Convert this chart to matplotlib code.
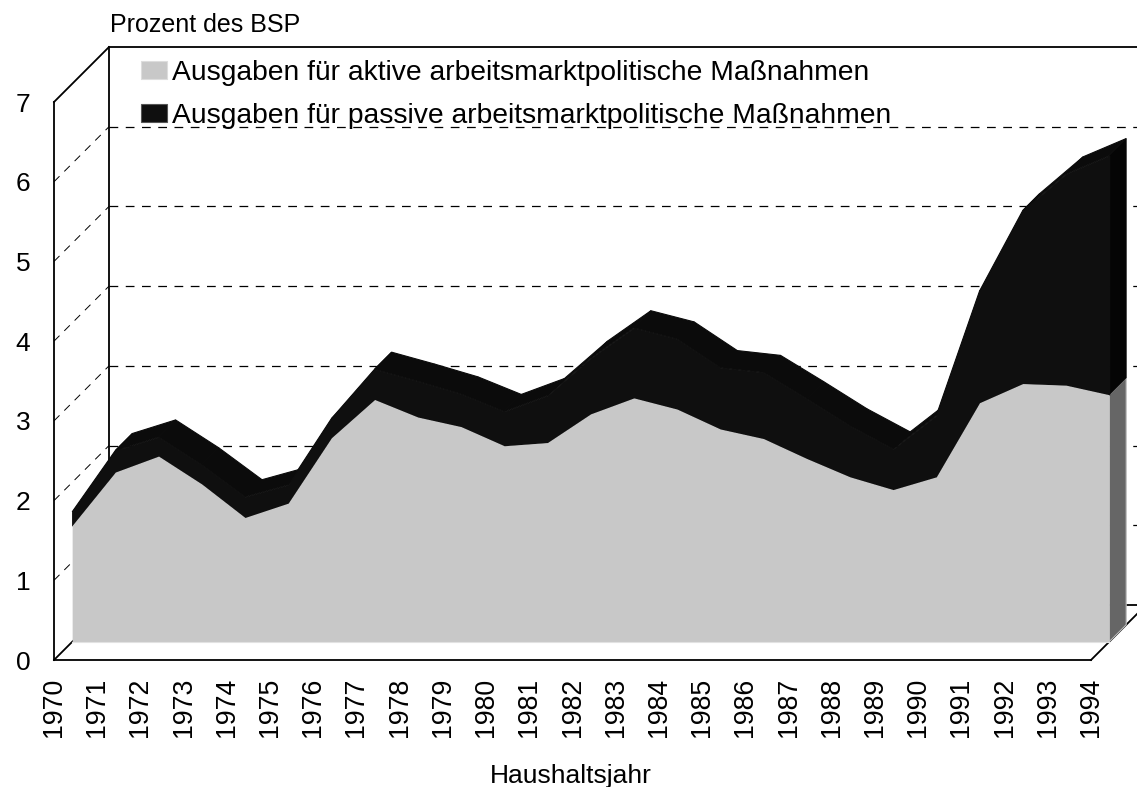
import matplotlib
matplotlib.use('Agg')
import matplotlib.pyplot as plt
from matplotlib.patches import Patch
import numpy as np

plt.rcParams['font.family'] = ['Liberation Sans', 'DejaVu Sans']

jahre = list(range(1970, 1995))
aktiv = [1.46, 2.13, 2.33, 1.98, 1.56, 1.74, 2.56, 3.04, 2.82, 2.70, 2.46, 2.50, 2.86,
         3.06, 2.92, 2.67, 2.55, 2.30, 2.07, 1.91, 2.07, 3.00, 3.24, 3.22, 3.10]
passiv = [0.17, 0.27, 0.24, 0.24, 0.26, 0.23, 0.24, 0.38, 0.45, 0.41, 0.43, 0.59, 0.70,
          0.88, 0.88, 0.77, 0.83, 0.75, 0.64, 0.51, 0.77, 1.40, 2.17, 2.65, 3.00]
y_ticks = [0, 1, 2, 3, 4, 5, 6, 7]
legende = ['Ausgaben für aktive arbeitsmarktpolitische Maßnahmen',
           'Ausgaben für passive arbeitsmarktpolitische Maßnahmen']

W, H = 1137, 787
fig = plt.figure(figsize=(W / 100, H / 100), dpi=100)
ax = fig.add_axes([54 / W, (H - 660) / H, 1037 / W, 558 / H])
ax.set_xlim(1970, 1994)
ax.set_ylim(0, 7)

# Tiefe: eine Einheit entspricht 55 Pixel nach rechts und oben
px_x = 1037 / 24
px_y = 558 / 7
DX = 55 / px_x
DY = 55 / px_y
VORN = 0.33
HINTEN = 0.64

x = np.array(jahre, dtype=float)
a = np.array(aktiv)
s = a + np.array(passiv)


def tief(xs, ys, d):
    return np.asarray(xs, dtype=float) + d * DX, np.asarray(ys, dtype=float) + d * DY


# Wände und Gitterlinien
x0, x1 = jahre[0], jahre[-1]
for v in y_ticks[1:-1]:
    ax.plot([x0, x0 + DX], [v, v + DY], color='black', lw=0.7, dashes=(8, 7),
            clip_on=False, zorder=1)
    ax.plot([x0 + DX, x1 + DX], [v + DY, v + DY], color='black', lw=0.9, dashes=(7, 6),
            clip_on=False, zorder=1)
rand = dict(color='black', lw=1.3, clip_on=False, zorder=1, solid_capstyle='projecting')
ax.plot([x0 + DX, x0 + DX], [DY, 7 + DY], **rand)
ax.plot([x0 + DX, x1 + DX], [7 + DY, 7 + DY], **rand)
ax.plot([x0 + DX, x1 + DX], [DY, DY], **rand)
ax.plot([x0, x0 + DX], [7, 7 + DY], **rand)
ax.plot([x0, x0 + DX], [0, DY], **rand)
ax.plot([x1, x1 + DX], [0, DY], **rand)

# Seitenflächen rechts
xv, yv = tief(x, a, VORN)
xh, yh = tief(x, a, HINTEN)
base_v = VORN * DY
base_h = HINTEN * DY
ax.fill([xv[-1], xh[-1], xh[-1], xv[-1]], [base_v, base_h, yh[-1], yv[-1]],
        facecolor='#666666', edgecolor='#bdbdbd', lw=0.8, clip_on=False, zorder=3)
xs_v, ys_v = tief(x, s, VORN)
xs_h, ys_h = tief(x, s, HINTEN)
ax.fill([xv[-1], xh[-1], xs_h[-1], xs_v[-1]], [yv[-1], yh[-1], ys_h[-1], ys_v[-1]],
        facecolor='#050505', edgecolor='#050505', lw=0.6, clip_on=False, zorder=3)

# Oberseite der schwarzen Fläche
for i in range(len(x) - 1):
    ax.fill([xs_v[i], xs_v[i + 1], xs_h[i + 1], xs_h[i]],
            [ys_v[i], ys_v[i + 1], ys_h[i + 1], ys_h[i]],
            facecolor='#0b0b0b', edgecolor='#0b0b0b', lw=0.8, clip_on=False, zorder=4)

# Vorderseite
ax.fill_between(xv, yv, ys_v, facecolor='#0f0f0f', edgecolor='#0f0f0f', lw=0.8,
                clip_on=False, zorder=5)
ax.fill_between(xv, base_v, yv, color='#c8c8c8', lw=0, clip_on=False, zorder=6)
ax.plot([xv[0], xv[-1]], [base_v, base_v], color='#e2e2e2', lw=0.8, clip_on=False, zorder=6)

# Achsen
for seite in ['top', 'right']:
    ax.spines[seite].set_visible(False)
for seite in ['left', 'bottom']:
    ax.spines[seite].set_linewidth(1.3)
    ax.spines[seite].set_zorder(7)
ax.patch.set_visible(False)
ax.set_xticks(jahre)
ax.set_xticklabels([str(j) for j in jahre], rotation=90, fontsize=19.2)
ax.set_yticks(y_ticks)
ax.set_yticklabels([str(v) for v in y_ticks], fontsize=19)
ax.tick_params(axis='x', length=0, pad=13)
ax.tick_params(axis='y', length=0, pad=17)

fig.text(110 / W, 1 - 25 / H, 'Prozent des BSP', fontsize=18, ha='left', va='center')
fig.text(571 / W, 1 - 776 / H, 'Haushaltsjahr', fontsize=19, ha='center', va='center')

griffe = [Patch(facecolor='#c8c8c8', edgecolor='#dddddd', lw=0.8),
          Patch(facecolor='#0f0f0f', edgecolor='#555555', lw=0.8)]
leg = ax.legend(griffe, legende, loc='upper left', bbox_to_anchor=(141 / W, 1 - 60 / H),
                bbox_transform=fig.transFigure, frameon=False, fontsize=20.3, borderpad=0,
                borderaxespad=0, handlelength=0.92, handleheight=0.6, handletextpad=0.17,
                labelspacing=0.61)
leg.set_zorder(8)

fig.savefig('out.png', dpi=100)
